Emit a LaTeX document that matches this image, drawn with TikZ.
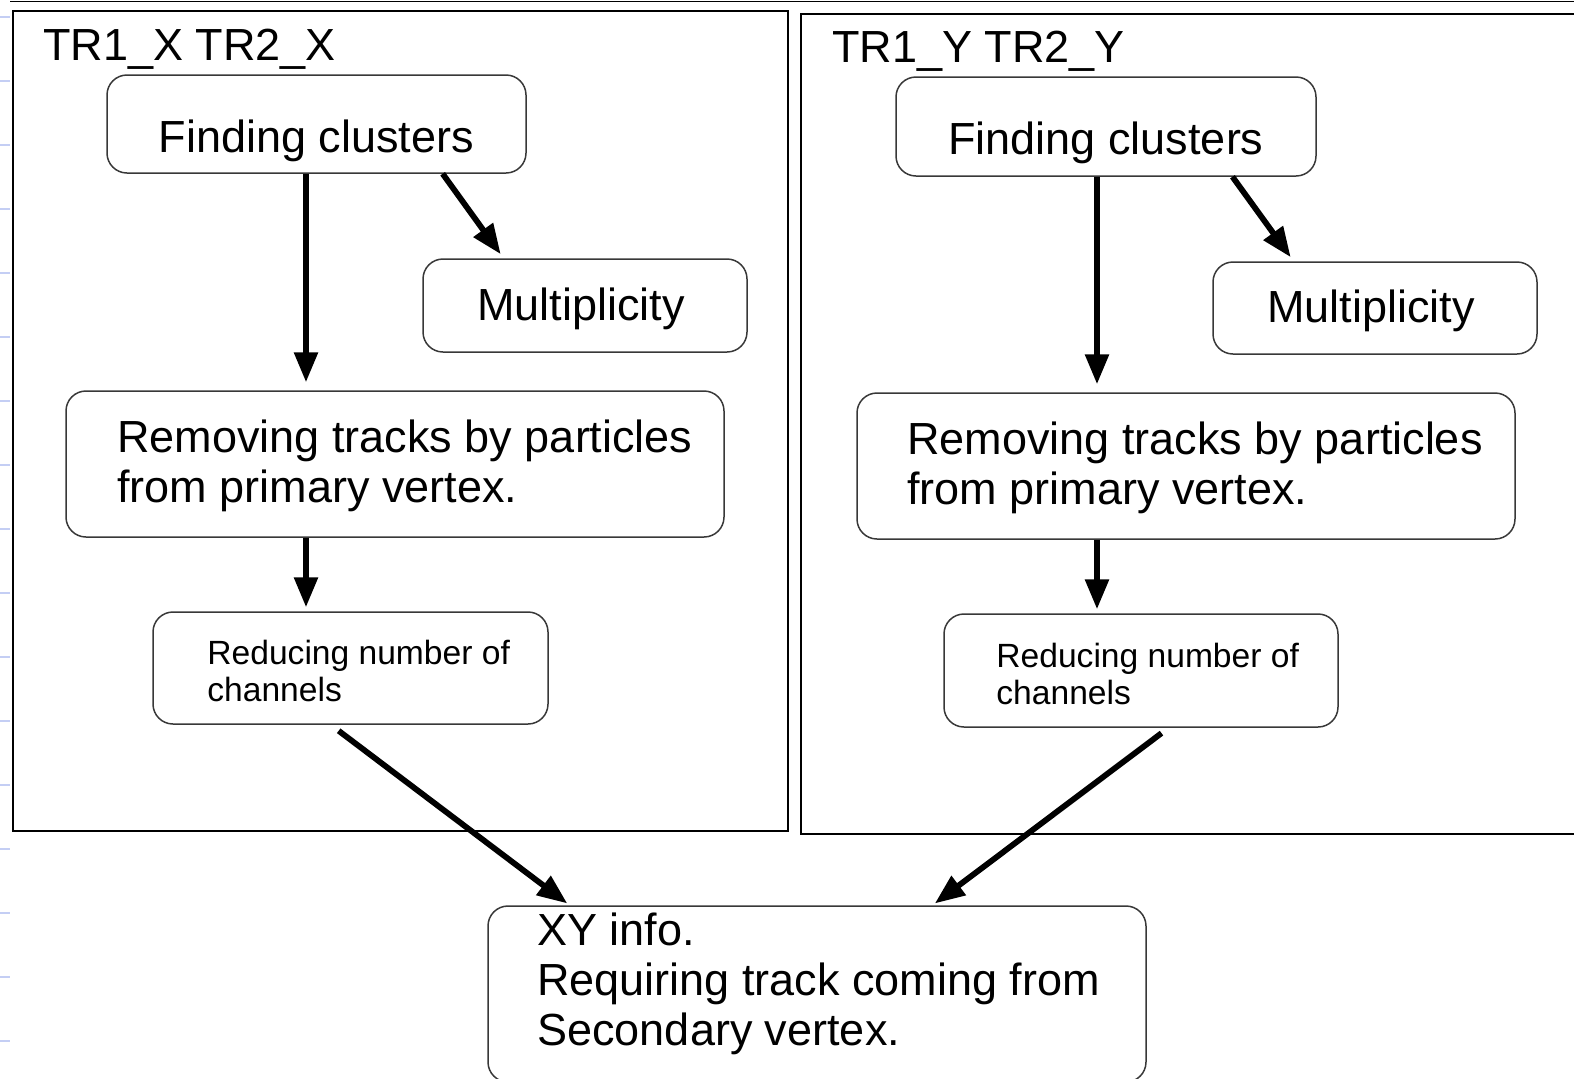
\documentclass[tikz,border=0pt]{standalone}
\usepackage{fontspec}
\setmainfont{Liberation Sans}
\usetikzlibrary{arrows.meta,calc}

\definecolor{edgegray}{gray}{0.22}
\definecolor{tickblue}{RGB}{196,206,244}

% text sizes (1 unit = 0.5pt)
\newcommand{\bigtxt}{\fontsize{22.5}{25}\selectfont}
\newcommand{\smalltxt}{\fontsize{16.8}{18.5}\selectfont}
% left-aligned multi-line block whose baseline is that of its first line
\newcommand{\textlines}[1]{\begin{tabular}[t]{@{}l@{}}#1\end{tabular}}

\begin{document}
\begin{tikzpicture}[x=0.5pt,y=-0.5pt,
  panel/.style={draw=black, line width=1pt, inner sep=0pt, anchor=north west},
  stepbox/.style={draw=edgegray, line width=0.75pt, rounded corners=10pt, inner sep=0pt},
  txt/.style={inner sep=0pt, font=\bigtxt},
  smalltext/.style={inner sep=0pt, font=\smalltxt},
  flow/.style={line width=2.9pt, -{Triangle[length=15pt,width=11.5pt]}},
  tickmark/.style={draw=tickblue, line width=1pt},
]
\useasboundingbox (0,0) rectangle (1574,1078);
\clip (0,0) rectangle (1574,1078);

% page rule and left margin ticks
\draw[line width=0.6pt] (10,1.5) -- (1574,1.5);
\foreach \k in {0,...,16} \draw[tickmark] (0,17+64*\k) -- (10,17+64*\k);

% group frames
\node[panel, minimum width=387.5pt, minimum height=410pt] (panX) at (12,10) {};
\node[panel, minimum width=400pt, minimum height=410pt] (panY) at (800,13) {};
\node[txt, anchor=base west] (ttlX) at (43,60) {TR1\_X TR2\_X};
\node[txt, anchor=base west] (ttlY) at (832,62) {TR1\_Y TR2\_Y};

% ---- X chain ----
\node[stepbox, minimum width=209.5pt, minimum height=49pt] (fcL) at (316.5,124) {};
\node[txt, anchor=base] (fcLt) at (316.5,152) {Finding clusters};
\node[stepbox, minimum width=162pt, minimum height=46.5pt] (multL) at (585,305.5) {};
\node[txt, anchor=base west] (multLt) at (477,320) {Multiplicity};
\node[stepbox, minimum width=329pt, minimum height=73pt] (remL) at (395,464) {};
\node[txt, anchor=base west] (remLt) at (117,452)
  {\textlines{Removing tracks by particles\\from primary vertex.}};
\node[stepbox, minimum width=197.5pt, minimum height=56pt] (redL) at (350.5,668) {};
\node[smalltext, anchor=base west] (redLt) at (207,664)
  {\textlines{Reducing number of\\channels}};

% ---- Y chain ----
\node[stepbox, minimum width=210pt, minimum height=49.5pt] (fcR) at (1106,126.5) {};
\node[txt, anchor=base] (fcRt) at (1106,154) {Finding clusters};
\node[stepbox, minimum width=162pt, minimum height=46pt] (multR) at (1375,308) {};
\node[txt, anchor=base west] (multRt) at (1267,322) {Multiplicity};
\node[stepbox, minimum width=329pt, minimum height=73pt] (remR) at (1186,466) {};
\node[txt, anchor=base west] (remRt) at (907,454)
  {\textlines{Removing tracks by particles\\from primary vertex.}};
\node[stepbox, minimum width=197pt, minimum height=56.5pt] (redR) at (1141,670.5) {};
\node[smalltext, anchor=base west] (redRt) at (996,667)
  {\textlines{Reducing number of\\channels}};

% ---- combined result ----
\node[stepbox, minimum width=329pt, minimum height=88pt] (xy) at (817,994) {};
\node[txt, anchor=base west] (xyt) at (537,945)
  {\textlines{XY info.\\Requiring track coming from\\Secondary vertex.}};

% connectors
\coordinate (colL) at (306,0);
\coordinate (colR) at (1097,0);
\draw[flow, shorten >=4pt] (fcL.south -| colL) -- (remL.north -| colL);
\draw[flow, shorten >=2pt] (remL.south -| colL) -- (redL.north -| colL);
\draw[flow, shorten >=2.5pt]
  ($(fcL.south west)!0.8!(fcL.south east)$) -- ($(multL.north west)!0.25!(multL.north east)$);

\draw[flow, shorten >=4pt] (fcR.south -| colR) -- (remR.north -| colR);
\draw[flow, shorten >=2pt] (remR.south -| colR) -- (redR.north -| colR);
\draw[flow, shorten >=2.5pt]
  ($(fcR.south west)!0.8!(fcR.south east)$) -- ($(multR.north west)!0.25!(multR.north east)$);

\draw[flow, shorten <=5pt, shorten >=1.5pt]
  ($(redL.south west)!0.45!(redL.south east)$) -- ($(xy.north west)!0.125!(xy.north east)$);
\draw[flow, shorten <=4.5pt, shorten >=1.5pt]
  ($(redR.south west)!0.57!(redR.south east)$) -- ($(xy.north west)!0.675!(xy.north east)$);
\end{tikzpicture}
\end{document}
